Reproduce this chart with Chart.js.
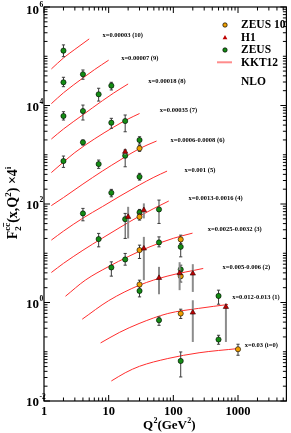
<!DOCTYPE html>
<html>
<head>
<meta charset="utf-8">
<title>F2 charm x 4^i, KKT12 NLO</title>
<script src="https://cdn.jsdelivr.net/npm/chart.js@4.4.1/dist/chart.umd.min.js"></script>
<style>
  html, body { margin: 0; padding: 0; background: #fff; }
</style>
</head>
<body>
<canvas id="f2cc" width="291" height="433"></canvas>
<script>
// ZEUS (green)
const zeusQ2 = [2, 2, 4, 7, 11, 2, 4, 11, 18, 4, 30, 2, 7, 18, 30, 11, 4, 18, 30, 60, 7, 11, 18, 60, 130, 130, 30, 60, 500, 500, 130];
const zeusF  = [1.30e5, 2.96e4, 4.31e4, 1.69e4, 2.53e4, 6120, 7730, 4470, 4840, 1790, 1990, 745, 647, 955, 357, 169, 64.4, 49.3, 67.5, 77.6, 19.4, 5.15, 7.48, 16.6, 13.5, 4.69, 1.72, 0.437, 1.36, 0.177, 0.065];
const zeusLo = [9.8e4, 2.41e4, 3.41e4, 1.23e4, 2.07e4, 5070, 5070, 3440, 2930, 1570, 1650, 554, 529, 570, 306, 140, 45.6, 20, 54.9, 40.3, 13.5, 3.43, 5.73, 13.5, 8.45, 3.12, 1.30, 0.344, 0.923, 0.142, 0.0308];
const zeusHi = [1.70e5, 3.74e4, 5.26e4, 2.24e4, 2.96e4, 7480, 10200, 5490, 6410, 1990, 2320, 941, 780, 1250, 419, 198, 81.4, 64.4, 77.6, 120, 25.3, 6.69, 9.91, 21.5, 17.6, 5.73, 2.14, 0.510, 1.78, 0.216, 0.099];

// ZEUS 10 (orange)
const zeus10Q2 = [30, 30, 30, 30, 130, 130, 130, 1000];
const zeus10F  = [1349, 54.9, 11.6, 2.32, 19.1, 3.43, 0.597, 0.1124];
const zeus10Lo = [1172, 47.1, 7.84, 1.95, 15.8, 2.6, 0.473, 0.0849];
const zeus10Hi = [1553, 64.4, 14.6, 2.84, 23.3, 4.5, 0.731, 0.142];

// H1 (red triangles)
const h1Q2 = [18, 20, 35, 35, 60, 125, 200, 200, 650];
const h1F  = [1151, 54.9, 75.2, 12.5, 3.16, 3.94, 3.88, 0.626, 0.814];
const h1Lo = [1000, 20, 51, 2.84, 1.47, 1.78, 1.64, 0.158, 0.158];
const h1Hi = [1300, 87.7, 103, 21.5, 5.29, 6.59, 6.0, 1.11, 0.954];

// KKT12 NLO curves, index = i
const kktQ2 = [
  [11, 18, 30, 82, 250, 1000],
  [7.5, 14.6, 29.5, 82, 245, 700],
  [3.9, 10, 30, 80, 290],
  [2.15, 4.35, 10, 20, 42, 100, 198],
  [1.3, 2, 4, 8, 15, 30, 50, 85],
  [1.3, 2, 4, 8, 15, 30, 50, 80],
  [1.3, 2, 4, 8, 15, 30, 55],
  [1.3, 2, 3, 6, 12, 20, 30],
  [1.3, 2, 4, 8, 12, 20],
  [1.3, 2, 4, 6, 10],
  [1.3, 2, 3, 5]
];
const kktF = [
  [0.0255, 0.0374, 0.0507, 0.0728, 0.0954, 0.116],
  [0.151, 0.246, 0.374, 0.597, 0.759, 0.911],
  [0.458, 1.09, 2.25, 3.42, 4.91],
  [1.34, 2.84, 5.37, 8.53, 13.3, 20.1, 25.6],
  [4.07, 6.23, 11.5, 20.3, 33.5, 56.8, 81.1, 115],
  [18.5, 28.1, 51.7, 88.5, 145, 244, 349, 466],
  [92.8, 135, 254, 466, 780, 1336, 1898],
  [435, 711, 1109, 2085, 3656, 5320, 6870],
  [2085, 3330, 6470, 1.25e4, 1.80e4, 2.74e4],
  [1.09e4, 1.81e4, 3.62e4, 5.32e4, 8.33e4],
  [5.52e4, 9.23e4, 1.38e5, 2.25e5]
];

// bin labels and where they sit (Q2, F)
const binText = ['x=0.03 (i=0)', 'x=0.012-0.013 (1)', 'x=0.005-0.006 (2)', 'x=0.0025-0.0032 (3)',
  'x=0.0013-0.0016 (4)', 'x=0.001 (5)', 'x=0.0006-0.0008 (6)', 'x=0.00035 (7)',
  'x=0.00018 (8)', 'x=0.00007 (9)', 'x=0.00003 (10)'];
const binQ2 = [1271, 812, 577, 340, 172, 149, 90.3, 61.9, 41, 15.6, 8.01];
const binF  = [0.1375, 1.30, 5.29, 29.9, 130, 489, 1990, 8110, 3.15e4, 9.02e4, 2.71e5];

const xTicks = [1, 10, 100, 1000];
const yTicks = [1e-2, 1, 1e2, 1e4, 1e6];
const yTickExp = ['-2', '0', '2', '4', '6'];

const SERIF = '"Liberation Serif", "DejaVu Serif", serif';
const GREEN = 'rgb(20,140,20)';
const ORANGE = 'rgb(240,160,0)';
const RED = 'rgb(190,0,0)';
const CURVE = 'rgb(255,45,45)';

const pts = (qs, fs) => qs.map((q, i) => ({x: q, y: fs[i]}));

const datasets = [
  {label: 'H1', data: pts(h1Q2, h1F), pointStyle: 'triangle', pointRadius: 3.1,
   backgroundColor: RED, borderColor: '#300', pointBorderWidth: 0.6, showLine: false,
   errLo: h1Lo, errHi: h1Hi, barColor: 'rgb(140,140,140)', barWidth: 2, cap: 0},
  {label: 'ZEUS 10', data: pts(zeus10Q2, zeus10F), pointStyle: 'circle', pointRadius: 2.6,
   backgroundColor: ORANGE, borderColor: '#000', pointBorderWidth: 0.6, showLine: false,
   errLo: zeus10Lo, errHi: zeus10Hi, barColor: 'rgb(60,60,60)', barWidth: 1, cap: 1.6},
  {label: 'ZEUS', data: pts(zeusQ2, zeusF), pointStyle: 'circle', pointRadius: 2.6,
   backgroundColor: GREEN, borderColor: '#000', pointBorderWidth: 0.6, showLine: false,
   errLo: zeusLo, errHi: zeusHi, barColor: 'rgb(60,60,60)', barWidth: 1, cap: 1.6}
];
kktQ2.forEach((qs, i) => {
  datasets.push({label: 'KKT12 ' + i, type: 'line', data: pts(qs, kktF[i]),
    borderColor: CURVE, borderWidth: 1, pointRadius: 0, fill: false,
    cubicInterpolationMode: 'monotone'});
});

function supText(ctx, base, sup, x, y, bf, sf, dy) {
  ctx.font = bf;
  ctx.fillText(base, x, y);
  const w = ctx.measureText(base).width;
  ctx.font = sf;
  ctx.fillText(sup, x + w + 0.5, y - dy);
  return w + 0.5 + ctx.measureText(sup).width;
}

const decor = {
  id: 'decor',
  beforeDatasetDraw(chart, args) {
    const ds = chart.data.datasets[args.index];
    if (!ds.errLo) return;
    const {ctx} = chart;
    const x = chart.scales.x, y = chart.scales.y;
    ctx.save();
    ctx.strokeStyle = ds.barColor;
    ctx.lineWidth = ds.barWidth;
    ds.data.forEach((p, i) => {
      const px = x.getPixelForValue(p.x);
      const y1 = y.getPixelForValue(ds.errLo[i]);
      const y2 = y.getPixelForValue(ds.errHi[i]);
      ctx.beginPath();
      ctx.moveTo(px, y1); ctx.lineTo(px, y2);
      if (ds.cap) {
        ctx.moveTo(px - ds.cap, y1); ctx.lineTo(px + ds.cap, y1);
        ctx.moveTo(px - ds.cap, y2); ctx.lineTo(px + ds.cap, y2);
      }
      ctx.stroke();
    });
    ctx.restore();
  },
  afterDraw(chart) {
    const {ctx, chartArea: a} = chart;
    const x = chart.scales.x, y = chart.scales.y;
    ctx.save();
    // frame
    ctx.strokeStyle = '#000';
    ctx.lineWidth = 1.2;
    ctx.strokeRect(a.left, a.top, a.right - a.left, a.bottom - a.top);
    // ticks, inside on all four sides
    ctx.lineWidth = 1;
    ctx.beginPath();
    for (let e = 0; e <= 3; e++) {
      for (let m = 1; m <= 9; m++) {
        const v = m * Math.pow(10, e);
        if (v > x.max) break;
        const px = x.getPixelForValue(v);
        const len = m === 1 ? 6 : 3.5;
        ctx.moveTo(px, a.bottom); ctx.lineTo(px, a.bottom - len);
        ctx.moveTo(px, a.top); ctx.lineTo(px, a.top + len);
      }
    }
    for (let e = -2; e <= 6; e++) {
      for (let m = 1; m <= 9; m++) {
        const v = m * Math.pow(10, e);
        if (v > y.max) break;
        const py = y.getPixelForValue(v);
        const len = (m === 1 && e % 2 === 0) ? 6 : 3.5;
        ctx.moveTo(a.left, py); ctx.lineTo(a.left + len, py);
        ctx.moveTo(a.right, py); ctx.lineTo(a.right - len, py);
      }
    }
    ctx.stroke();

    ctx.fillStyle = '#000';
    // x tick labels
    ctx.font = 'bold 12.5px ' + SERIF;
    ctx.textAlign = 'center';
    ctx.textBaseline = 'alphabetic';
    xTicks.forEach(v => ctx.fillText(String(v), x.getPixelForValue(v), 415));
    // y tick labels
    ctx.textAlign = 'left';
    yTicks.forEach((v, i) => {
      let py = y.getPixelForValue(v) + 5;
      if (py < 14) py = 14;
      ctx.font = 'bold 13px ' + SERIF;
      const w = ctx.measureText('10').width;
      supText(ctx, '10', yTickExp[i], 39 - w, py, 'bold 13px ' + SERIF, 'bold 7.5px ' + SERIF, 7);
    });

    // x title
    let cx = 143;
    ctx.font = 'bold 13px ' + SERIF;
    ctx.fillText('Q', cx, 429); cx += ctx.measureText('Q').width + 0.3;
    ctx.font = 'bold 8px ' + SERIF;
    ctx.fillText('2', cx, 423); cx += ctx.measureText('2').width;
    ctx.font = 'bold 13px ' + SERIF;
    ctx.fillText('(GeV', cx, 429); cx += ctx.measureText('(GeV').width + 0.3;
    ctx.font = 'bold 8px ' + SERIF;
    ctx.fillText('2', cx, 423); cx += ctx.measureText('2').width;
    ctx.font = 'bold 13px ' + SERIF;
    ctx.fillText(')', cx, 429);

    // y title, rotated
    ctx.save();
    ctx.translate(17, 203);
    ctx.rotate(-Math.PI / 2);
    const big = 'bold 14px ' + SERIF, small = 'bold 9px ' + SERIF;
    const parts = [
      ['F', big, 0, 0], ['2', small, 4, 0], ['cc', small, -7, 1],
      ['(x,Q', big, 0, 0], ['2', small, -6, 0], [')', big, 0, 0], [' \u00d74', big, 0, 0], ['i', small, -6, 0]
    ];
    let total = 0;
    const widths = parts.map(p => { ctx.font = p[1]; return ctx.measureText(p[0]).width; });
    parts.forEach((p, i) => { if (i !== 1) total += widths[i]; });
    let tx = -total / 2;
    parts.forEach((p, i) => {
      ctx.font = p[1];
      ctx.fillText(p[0], tx, p[2]);
      if (p[3]) { // overline on the second c
        const w1 = ctx.measureText('c').width;
        ctx.fillRect(tx + w1, p[2] - 7, widths[i] - w1, 0.8);
      }
      if (i !== 1) tx += widths[i];
    });
    ctx.restore();

    // bin labels
    ctx.font = 'bold 6.5px ' + SERIF;
    ctx.textBaseline = 'middle';
    binText.forEach((t, i) => ctx.fillText(t, x.getPixelForValue(binQ2[i]), y.getPixelForValue(binF[i])));

    // legend
    const lx = 225, tx0 = 241;
    const rows = [25, 37.7, 50, 62.3];
    ctx.font = 'bold 11.5px ' + SERIF;
    ctx.textBaseline = 'middle';
    ctx.lineWidth = 0.7;
    ctx.strokeStyle = '#000';
    ctx.fillStyle = ORANGE;
    ctx.beginPath(); ctx.arc(lx, rows[0], 2.2, 0, Math.PI * 2); ctx.fill(); ctx.stroke();
    ctx.fillStyle = RED;
    ctx.beginPath(); ctx.moveTo(lx, rows[1] - 2.6); ctx.lineTo(lx + 2.4, rows[1] + 1.6); ctx.lineTo(lx - 2.4, rows[1] + 1.6); ctx.closePath(); ctx.fill();
    ctx.fillStyle = GREEN;
    ctx.beginPath(); ctx.arc(lx, rows[2], 2.2, 0, Math.PI * 2); ctx.fill(); ctx.stroke();
    ctx.strokeStyle = 'rgb(255,140,140)';
    ctx.lineWidth = 2;
    ctx.beginPath(); ctx.moveTo(217, rows[3]); ctx.lineTo(232, rows[3]); ctx.stroke();
    ctx.fillStyle = '#000';
    ['ZEUS 10', 'H1', 'ZEUS', 'KKT12'].forEach((t, i) => ctx.fillText(t, tx0, rows[i] + 0.5));
    ctx.fillText('NLO', tx0, 82);
    ctx.restore();
  }
};

new Chart(document.getElementById('f2cc'), {
  type: 'scatter',
  data: {datasets},
  options: {
    responsive: false,
    animation: false,
    devicePixelRatio: 1,
    layout: {padding: {left: 44, right: 2, top: 7, bottom: 32}},
    plugins: {legend: {display: false}, tooltip: {enabled: false}},
    scales: {
      x: {type: 'logarithmic', min: 1, max: 5600, display: false},
      y: {type: 'logarithmic', min: 0.01, max: 1e6, display: false}
    }
  },
  plugins: [decor]
});
</script>
</body>
</html>
